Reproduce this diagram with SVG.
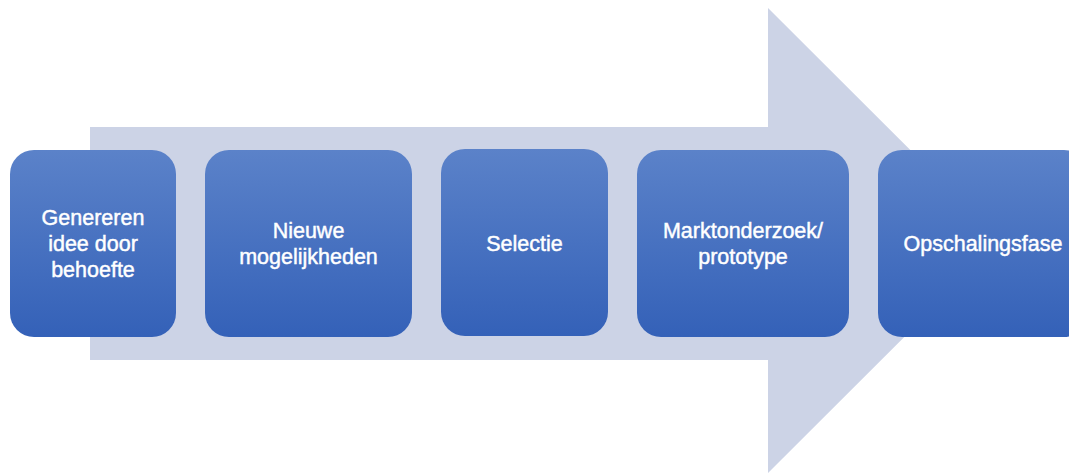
<svg xmlns="http://www.w3.org/2000/svg" width="1069" height="473" viewBox="0 0 1069 473">
<defs>
<linearGradient id="g" x1="0" y1="0" x2="0" y2="1">
<stop offset="0" stop-color="#5b82c9"/>
<stop offset="1" stop-color="#3461b8"/>
</linearGradient>
<style>
.box{fill:url(#g);}
.t{fill:#ffffff;stroke:#ffffff;stroke-width:0.45;font-family:"Liberation Sans",Arial,sans-serif;font-size:21.5px;text-anchor:middle;}
</style>
</defs>
<rect width="1069" height="473" fill="#ffffff"/>
<g id="connectors">
<path d="M90 127 H768 V8 L1001 240.5 L768 473 V360 H90 Z" fill="#ccd3e6"/>
</g>
<g id="n1"><rect class="box" x="10" y="150" width="166" height="187" rx="24"/>
<text class="t" x="93"><tspan x="93" y="224.5">Genereren</tspan><tspan x="93" y="250.5">idee door</tspan><tspan x="93" y="277">behoefte</tspan></text></g>
<g id="n2"><rect class="box" x="205" y="150" width="207" height="187" rx="24"/>
<text class="t"><tspan x="308.5" y="237.5">Nieuwe</tspan><tspan x="308.5" y="263.5">mogelijkheden</tspan></text></g>
<g id="n3"><rect class="box" x="441" y="149" width="167" height="187" rx="24"/>
<text class="t" x="524.5" y="250.5">Selectie</text></g>
<g id="n4"><rect class="box" x="637" y="150" width="212" height="187" rx="24"/>
<text class="t"><tspan x="743" y="237.5">Marktonderzoek/</tspan><tspan x="743" y="263.5">prototype</tspan></text></g>
<g id="n5"><rect class="box" x="878" y="150" width="210" height="187" rx="24"/>
<text class="t" x="983" y="250.5">Opschalingsfase</text></g>
</svg>
